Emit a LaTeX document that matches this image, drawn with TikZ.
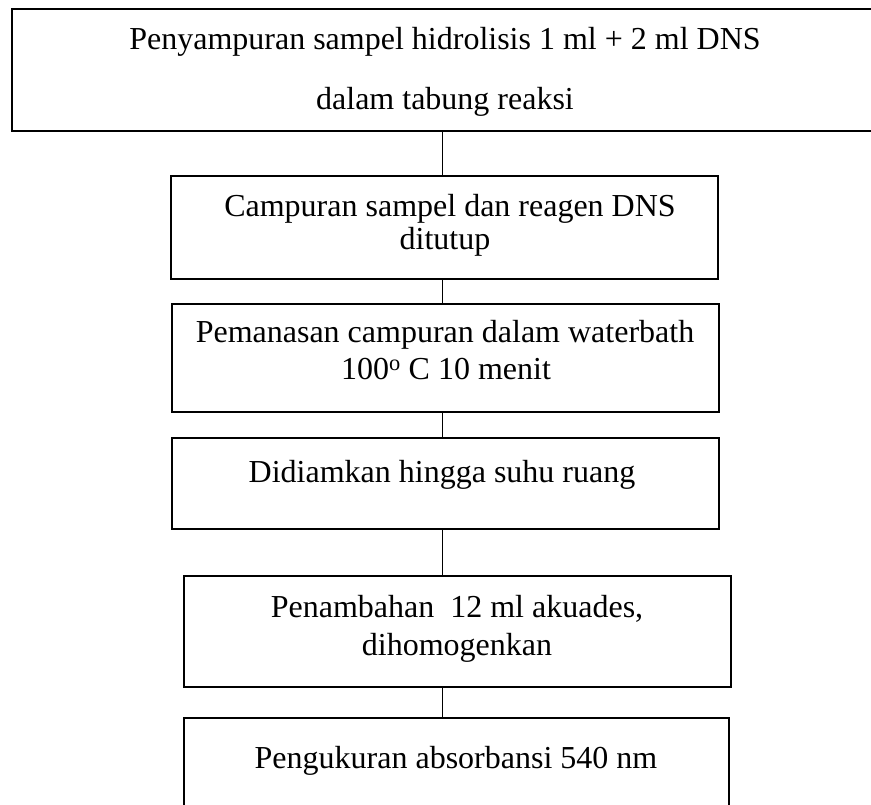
\documentclass[tikz,border=0pt]{standalone}
\usepackage{fontspec}
\setmainfont{Liberation Serif}
\begin{document}
\begin{tikzpicture}[x=1pt,y=-1pt,
  stepbox/.style={draw=black, line width=1.8pt, rectangle, inner sep=0pt},
  link/.style={draw=black, line width=1pt},
  lbl/.style={font=\fontsize{32}{38}\selectfont, inner sep=0pt, anchor=base}]
\useasboundingbox (0,0) rectangle (871,805);
\clip (0,0) rectangle (871,805);

% process boxes
\node[stepbox, minimum width=888pt, minimum height=122pt] (b1) at (456,70) {};
\node[stepbox, minimum width=547pt, minimum height=103pt] (b2) at (444.5,227.5) {};
\node[stepbox, minimum width=547pt, minimum height=108pt] (b3) at (445.5,358) {};
\node[stepbox, minimum width=547pt, minimum height=91pt]  (b4) at (445.5,483.5) {};
\node[stepbox, minimum width=547pt, minimum height=111pt] (b5) at (457.5,631.5) {};
\node[stepbox, minimum width=545pt, minimum height=112pt] (b6) at (456.5,774) {};

% box texts
\node[lbl] (t1a) at (445,50)  {Penyampuran sampel hidrolisis 1 ml + 2 ml DNS};
\node[lbl] (t1b) at (445,110) {dalam tabung reaksi};
\node[lbl] (t2a) at (450,217) {Campuran sampel dan reagen DNS};
\node[lbl] (t2b) at (445,250) {ditutup};
\node[lbl] (t3a) at (445,343) {Pemanasan campuran dalam waterbath};
\node[lbl] (t3b) at (446,380) {100\textsuperscript{o} C 10 menit};
\node[lbl] (t4)  at (442,482) {Didiamkan hingga suhu ruang};
\node[lbl] (t5a) at (457,617) {Penambahan\ \ 12 ml akuades,};
\node[lbl] (t5b) at (457,655) {dihomogenkan};
\node[lbl] (t6)  at (456,768) {Pengukuran absorbansi 540 nm};

% vertical connectors
\coordinate (axis) at (442,0);
\draw[link] (b1.south -| axis) -- (b2.north -| axis);
\draw[link] (b2.south -| axis) -- (b3.north -| axis);
\draw[link] (b3.south -| axis) -- (b4.north -| axis);
\draw[link] (b4.south -| axis) -- (b5.north -| axis);
\draw[link] (b5.south -| axis) -- (b6.north -| axis);
\end{tikzpicture}
\end{document}
